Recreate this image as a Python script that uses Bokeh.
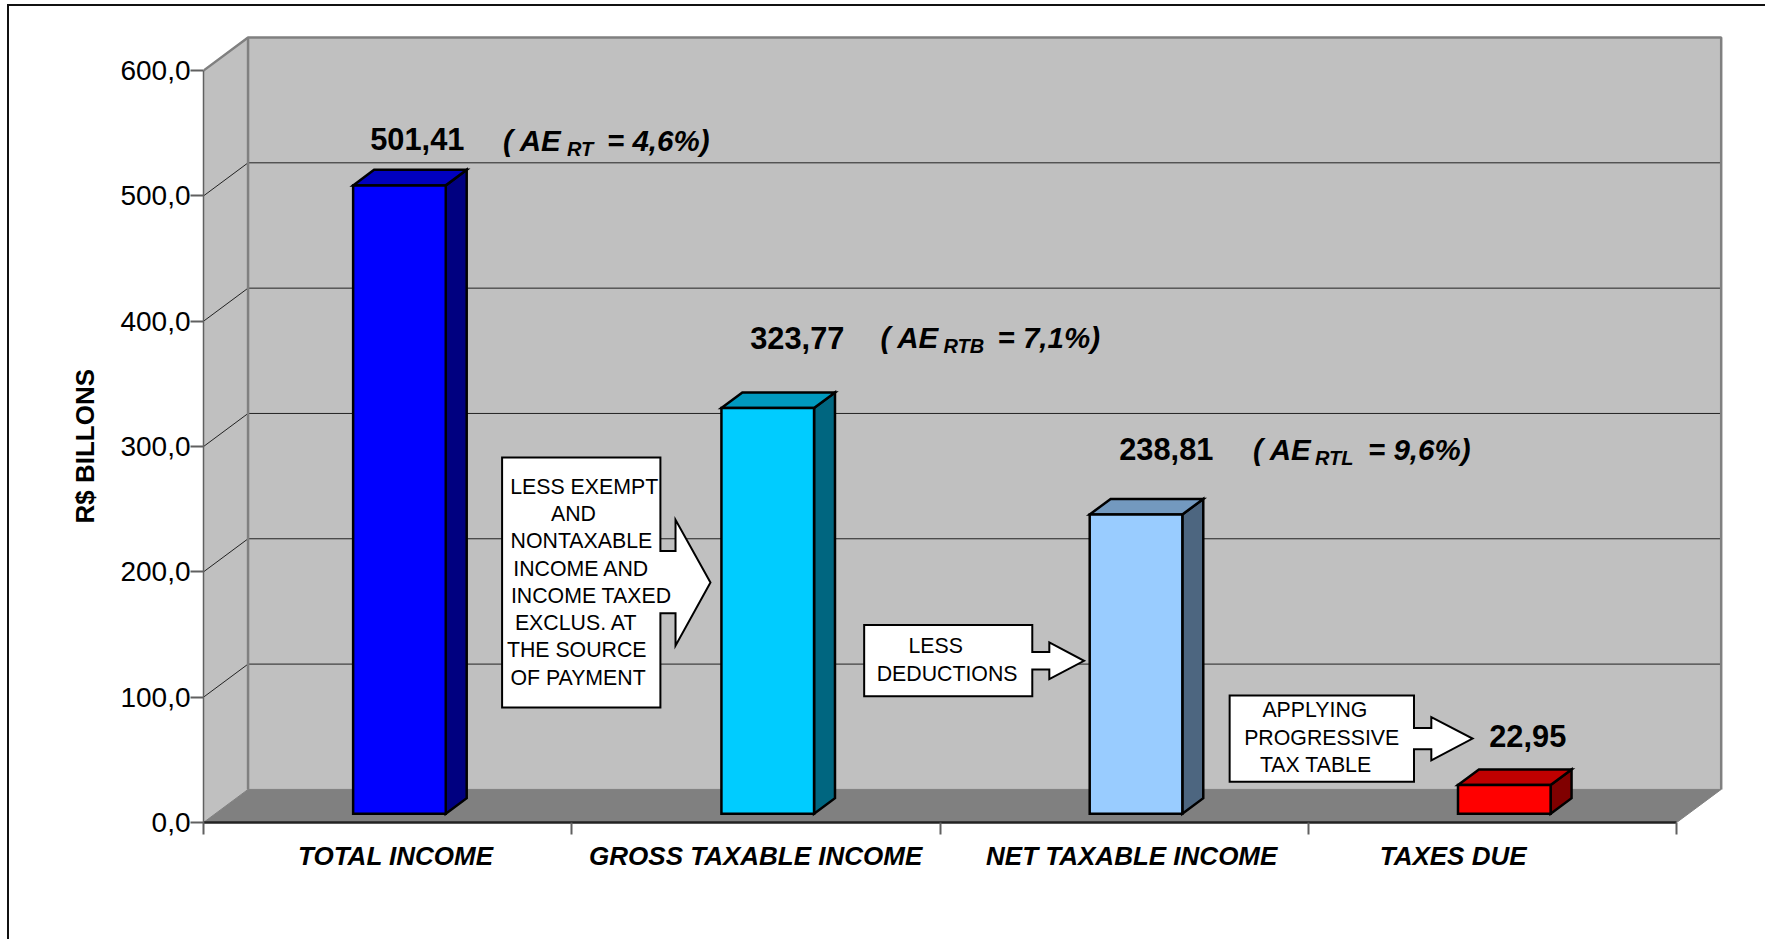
from bokeh.plotting import figure
from bokeh.embed import file_html
from bokeh.resources import INLINE
from bokeh.core.properties import value
from bokeh.models import FixedTicker, Range1d, Title

categories = ["TOTAL INCOME", "GROSS TAXABLE INCOME", "NET TAXABLE INCOME", "TAXES DUE"]
values = [501.41, 323.77, 238.81, 22.95]
value_labels = ["501,41", "323,77", "238,81", "22,95"]
y_ticks = [0, 100, 200, 300, 400, 500, 600]
y_tick_labels = ["0,0", "100,0", "200,0", "300,0", "400,0", "500,0", "600,0"]

front_colors = ["#0000FF", "#00CCFF", "#99CCFF", "#FF0000"]
top_colors = ["#0000BF", "#0099BF", "#7399BF", "#BF0000"]
side_colors = ["#000080", "#006680", "#4D6680", "#800000"]

# pixel geometry of the frame
PX_LEFT, PX_BOTTOM = 204, 822
CAT_PX, VAL_PX = 367.8, 1.250
def fx(px): return (px - PX_LEFT) / CAT_PX
def fy(py): return (PX_BOTTOM - py) / VAL_PX

DX, DY = 44.5 / CAT_PX, 33 / VAL_PX  # floor depth in data units
def proj(x, v, z): return x + z * DX, v + z * DY

p = figure(width=1758, height=935, output_backend="svg", toolbar_location=None,
           x_range=Range1d(0, 1521 / CAT_PX), y_range=Range1d(0, 787 / VAL_PX),
           min_border_left=194, min_border_right=41, min_border_top=27, min_border_bottom=119,
           outline_line_color=None, background_fill_color="white", border_fill_color="white",
           styles={"margin-top": "4px", "margin-left": "7px", "border-left": "2px solid #111",
                   "border-top": "2px solid #111", "box-sizing": "border-box"})
p.grid.visible = False
XMAX, YMAX = 4, 600

# walls
wx, wy = zip(proj(0, 0, 0), proj(0, 0, 1), proj(0, YMAX, 1), proj(0, YMAX, 0))
p.patch(list(wx), list(wy), fill_color="#C0C0C0", line_color="#C0C0C0")
bx, by = zip(proj(0, 0, 1), proj(XMAX, 0, 1), proj(XMAX, YMAX, 1), proj(0, YMAX, 1))
p.patch(list(bx), list(by), fill_color="#C0C0C0", line_color=None)
# grid
for v in y_ticks[1:-1]:
    a, b, c = proj(0, v, 0), proj(0, v, 1), proj(XMAX, v, 1)
    p.line([a[0], b[0], c[0]], [a[1], b[1], c[1]], line_color="#222222", line_width=1)
# wall edges
for pts in ([proj(0, YMAX, 0), proj(0, YMAX, 1), proj(XMAX, YMAX, 1), proj(XMAX, 0, 1)],
            [proj(0, 0, 1), proj(0, YMAX, 1)]):
    xs, ys = zip(*pts)
    p.line(list(xs), list(ys), line_color="#808080", line_width=2.5)
# floor
fxs, fys = zip(proj(0, 0, 0), proj(XMAX, 0, 0), proj(XMAX, 0, 1), proj(0, 0, 1))
p.patch(list(fxs), list(fys), fill_color="#808080", line_color="#808080")

# bars
Z0, Z1, W = 0.265, 0.735, 92.5 / CAT_PX
for i, v in enumerate(values):
    x0, x1 = i + 0.5 - W / 2, i + 0.5 + W / 2
    f = [proj(x0, 0, Z0), proj(x1, 0, Z0), proj(x1, v, Z0), proj(x0, v, Z0)]
    t = [proj(x0, v, Z0), proj(x1, v, Z0), proj(x1, v, Z1), proj(x0, v, Z1)]
    s = [proj(x1, 0, Z0), proj(x1, 0, Z1), proj(x1, v, Z1), proj(x1, v, Z0)]
    for pts, col in ((s, side_colors[i]), (t, top_colors[i]), (f, front_colors[i])):
        xs, ys = zip(*pts)
        p.patch(list(xs), list(ys), fill_color=col, line_color="black", line_width=2.5, line_join="miter")

# callouts
def callout(pts):
    p.patch([fx(a) for a, _ in pts], [fy(b) for _, b in pts], fill_color="white",
            line_color="black", line_width=2, line_join="miter")
callout([(502.2, 458), (660.3, 458), (660.3, 551.3), (675.4, 551.3), (675.4, 520), (710.3, 582.7),
         (675.4, 645.7), (675.4, 613.3), (660.3, 613.3), (660.3, 707.3), (502.2, 707.3)])
callout([(863.8, 625), (1031.7, 625), (1031.7, 652), (1048.7, 652), (1048.7, 642.3), (1083.4, 660.7),
         (1048.7, 679), (1048.7, 669.3), (1031.7, 669.3), (1031.7, 696), (863.8, 696)])
callout([(1228.8, 695.3), (1412.9, 695.3), (1412.9, 727.7), (1430.2, 727.7), (1430.2, 717), (1471.4, 738.3),
         (1430.2, 760), (1430.2, 749), (1412.9, 749), (1412.9, 781.3), (1228.8, 781.3)])

def put(items, size, style="normal"):
    off = 0.345 * size
    p.text([fx(a) for a, _, _ in items], [fy(b - off) for _, b, _ in items], text=[c for _, _, c in items],
           text_font=value("Liberation Sans"), text_font_size=f"{size}px", text_font_style=style,
           text_color="black", text_baseline="alphabetic", text_align="left")

put([(510.3, 495, "LESS EXEMPT"), (551, 521.5, "AND"), (510.7, 549, "NONTAXABLE"), (513.4, 576, "INCOME AND"),
     (511, 603, "INCOME TAXED"), (515, 630.5, "EXCLUS. AT"), (507, 657.5, "THE SOURCE"), (510.5, 685, "OF PAYMENT"),
     (908, 653, "LESS"), (876.3, 681.5, "DEDUCTIONS"),
     (1261.5, 716.7, "APPLYING"), (1243.3, 745.5, "PROGRESSIVE"), (1259, 772.3, "TAX TABLE")], 21.3)
put([(370.5, 151, value_labels[0]), (750, 349, value_labels[1]), (1118.5, 460, value_labels[2]), (1488, 746, value_labels[3])],
    30.8, "bold")
put([(503, 152, "( AE"), (607, 152, "= 4,6%)"),
     (880, 348.5, "( AE"), (997, 348.5, "= 7,1%)"),
     (1252, 460, "( AE"), (1367, 460, "= 9,6%)")], 29.5, "bold italic")
put([(567, 157, "RT"), (943, 353.5, "RTB"), (1314, 465, "RTL")], 20, "bold italic")

# axes
ya = p.yaxis[0]
ya.ticker = FixedTicker(ticks=y_ticks)
ya.major_label_overrides = dict(zip(y_ticks, y_tick_labels))
ya.bounds = (0, YMAX)
ya.axis_line_color = "#606060"
ya.axis_line_width = 1.5
ya.major_tick_line_color = "#606060"
ya.major_tick_line_width = 2
ya.major_tick_in = 0
ya.major_tick_out = 13
ya.minor_tick_line_color = None
ya.major_label_text_font = "Liberation Sans"
ya.major_label_text_font_size = "28px"
ya.major_label_text_color = "black"
ya.major_label_standoff = 0

p.add_layout(Title(text="R$ BILLONS", align="left", offset=299, standoff=36,
                   text_font="Liberation Sans", text_font_size="26px", text_font_style="bold",
                   text_color="black"), "left")

xa = p.xaxis[0]
label_pos = [fx(396), fx(755.5), fx(1131), fx(1452)]
xa.ticker = FixedTicker(ticks=label_pos, minor_ticks=[0, 1, 2, 3, 4])
xa.major_label_overrides = dict(zip(label_pos, categories))
xa.bounds = (0, XMAX)
xa.axis_line_color = "#222222"
xa.axis_line_width = 2.5
xa.major_tick_line_color = None
xa.major_tick_in = 0
xa.major_tick_out = 0
xa.minor_tick_line_color = "#606060"
xa.minor_tick_line_width = 2
xa.minor_tick_in = 0
xa.minor_tick_out = 12
xa.major_label_text_font = "Liberation Sans"
xa.major_label_text_font_size = "26px"
xa.major_label_text_font_style = "bold italic"
xa.major_label_text_color = "black"
xa.major_label_standoff = 6

open("out.html", "w").write(file_html(p, INLINE))
